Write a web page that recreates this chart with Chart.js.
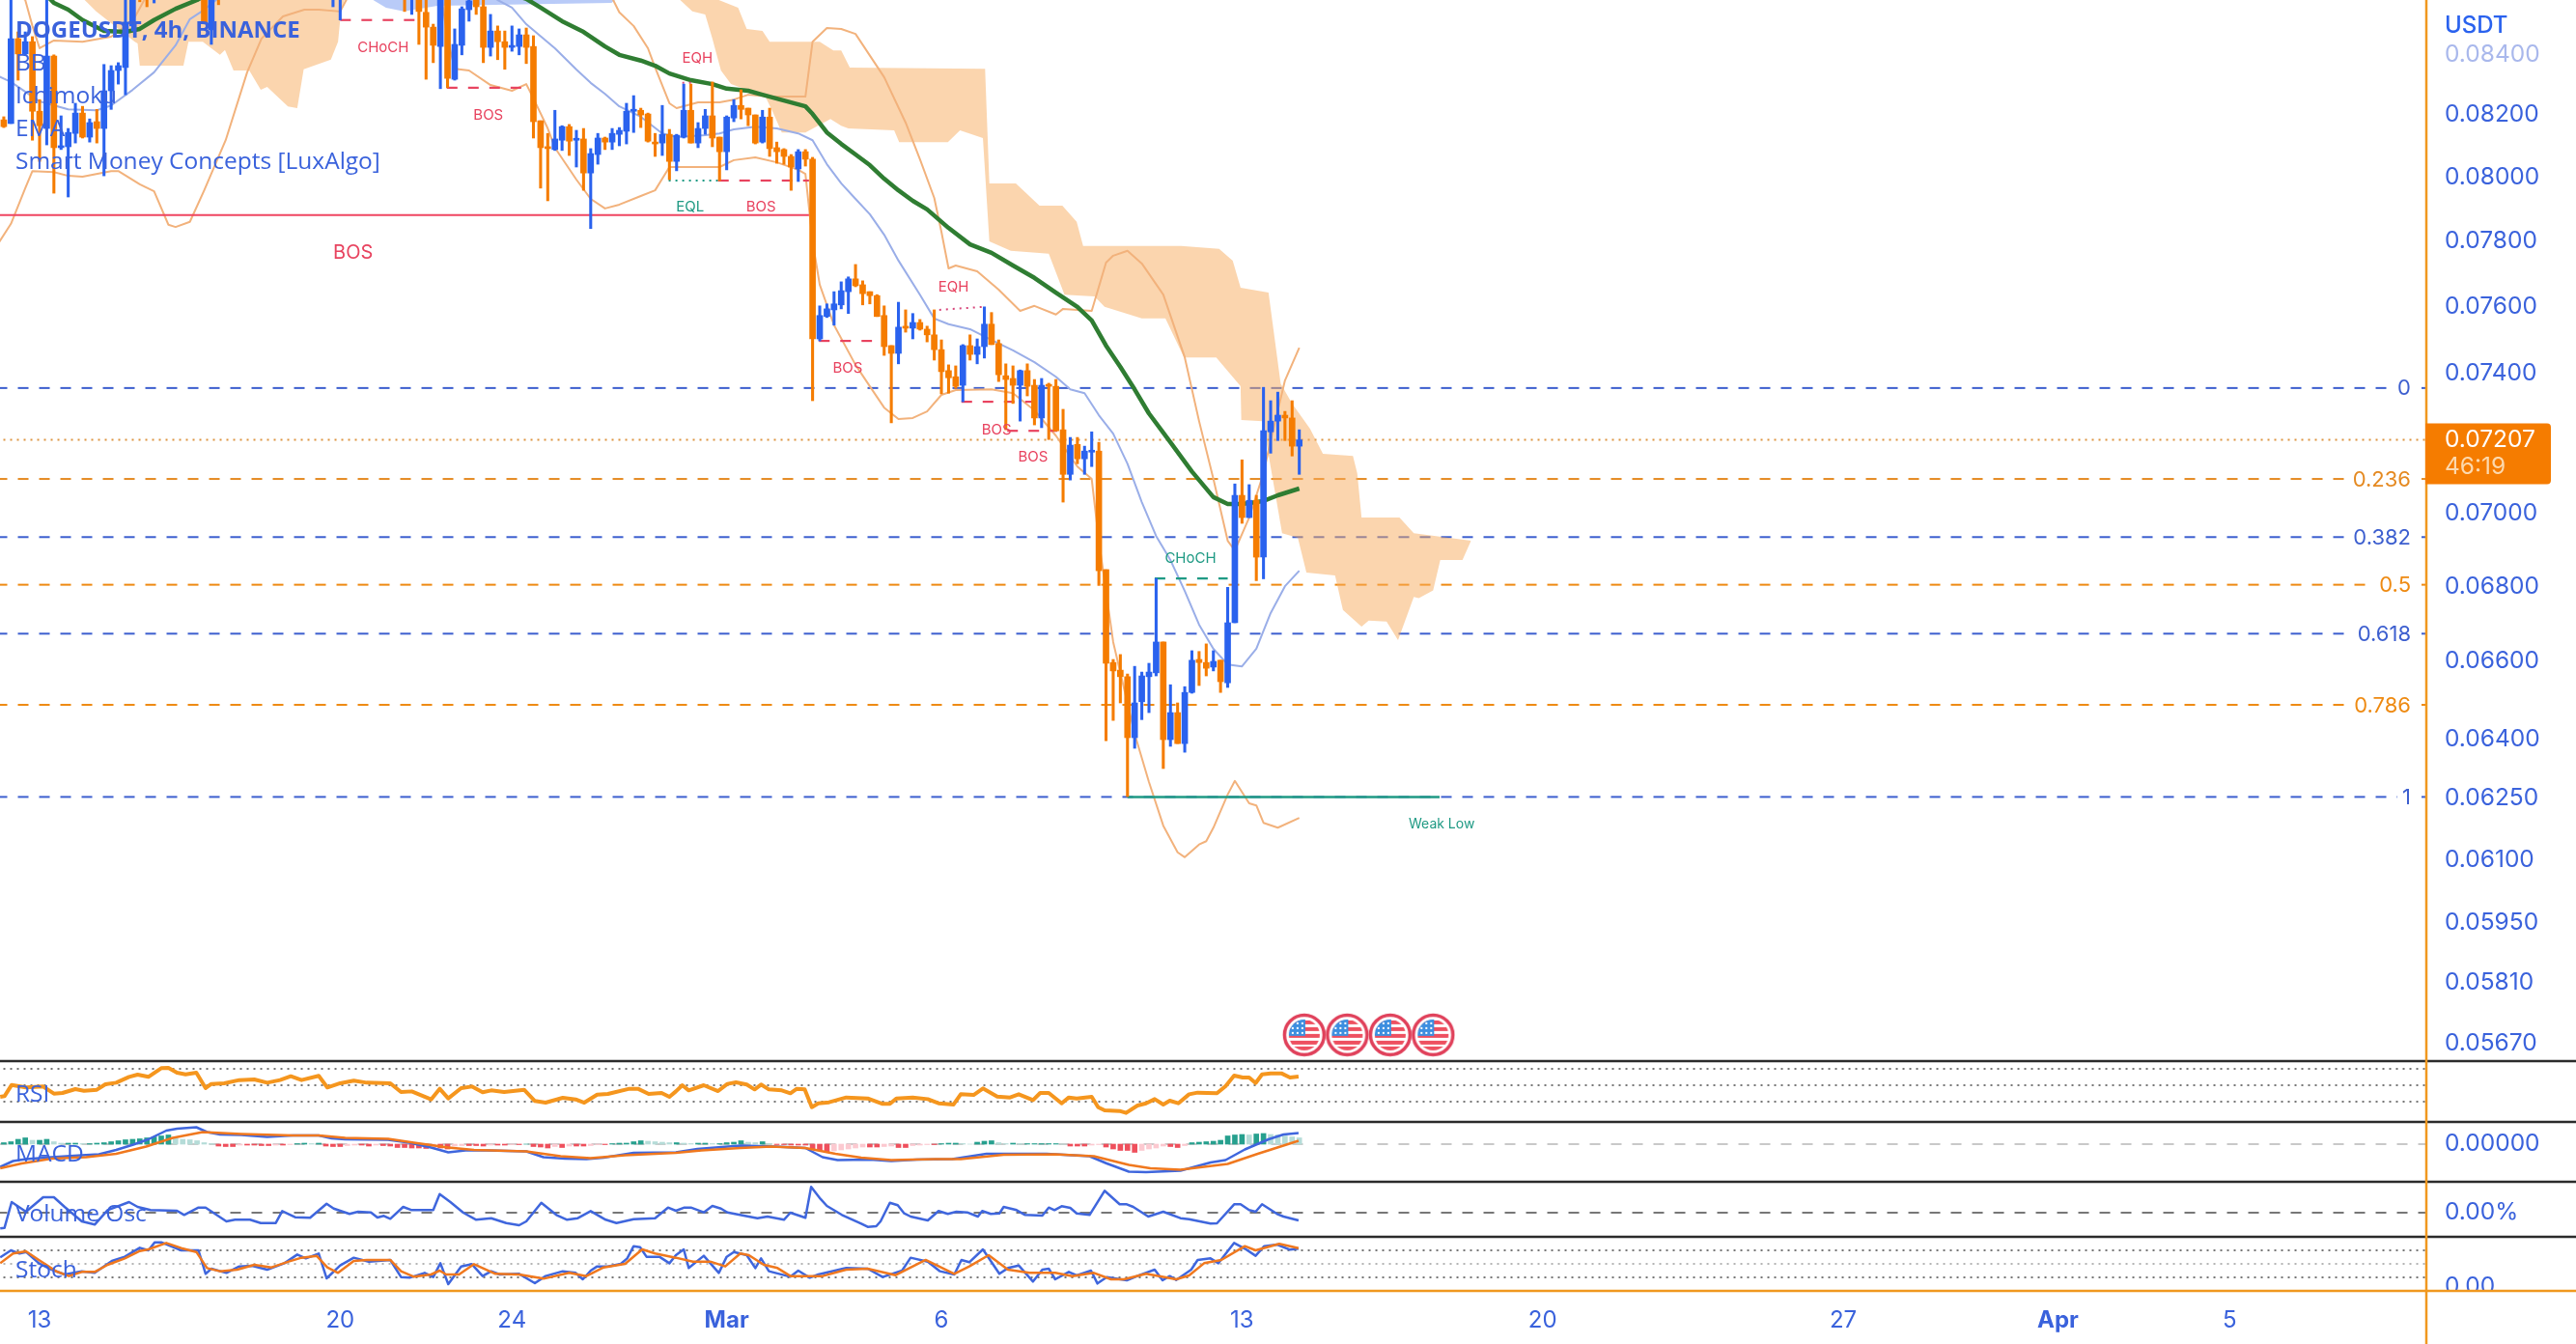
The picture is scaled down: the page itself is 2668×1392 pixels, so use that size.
<!DOCTYPE html>
<html lang="en">
<head>
<meta charset="UTF-8">
<title>DOGEUSDT, 4h, BINANCE</title>
<script src="https://cdn.jsdelivr.net/npm/chart.js"></script>
<style>
    html, body { margin: 0; padding: 0; background: #fff; }
    canvas { display: block; }
</style>
</head>
<body>
<canvas id="chart" width="2668" height="1392"></canvas>
<script>
// prices below are in 1/100000 USDT, x values are 4h bars counted from 13 Feb
// null = candle is above the top of the visible pane
const firstBar = -5;
const opens = [8184,8172,8452,8401,8442,8212,8156,8394,8094,8097,8140,8206,8128,8178,8156,8279,8346,8356,8495,8680,8640,8620,
  null,null,null,null,null,null,8690,8482,8650,null,null,null,null,null,null,null,null,null,null,null,null,null,null,null,8610,8600,
  null,null,null,null,null,null,null,null,8640,8590,8620,8541,8491,8426,8620,8317,8430,8550,8583,8560,8423,8478,8442,8423,8426,8465,
  8426,8181,8094,8088,8118,8162,8118,8122,8013,8072,8125,8112,8137,8147,8212,8215,8203,8112,8109,8137,8050,8128,8215,8109,8156,8197,
  8128,8081,8190,8231,8222,8200,8112,8193,8094,8088,8066,8026,8081,8057,7502,7569,7589,7604,7644,7683,7665,7644,7632,7572,7482,7459,
  7537,7534,7551,7531,7514,7470,7408,7390,7365,7482,7456,7479,7546,7488,7393,7385,7365,7408,7365,7270,7365,7362,7236,7109,7194,7153,
  7172,7175,6845,6597,6577,6560,6403,6495,6560,6570,6651,6398,6467,6388,6519,6605,6597,6585,6603,6544,6702,7050,6988,7036,6879,7230,
  7261,7278,7270,7189];
const closes = [8162,8452,8401,8442,8212,8165,8394,8094,8100,8143,8206,8128,8175,8156,8279,8346,8362,8508,8600,8630,8600,8660,
  null,null,null,null,null,null,8508,8650,8600,null,null,null,null,null,null,null,null,null,null,null,null,null,null,null,8650,8650,
  null,null,null,null,null,null,null,null,8590,8640,8544,8491,8430,8620,8320,8433,8553,8580,8560,8423,8478,8442,8423,8426,8465,8423,
  8178,8094,8091,8122,8162,8115,8122,8013,8075,8125,8112,8140,8150,8212,8215,8200,8115,8106,8137,8050,8134,8215,8109,8156,8197,8125,
  8081,8193,8231,8218,8200,8109,8193,8091,8081,8066,8032,8081,8057,7502,7572,7592,7607,7647,7683,7662,7638,7632,7569,7479,7459,7537,
  7534,7551,7531,7514,7470,7405,7387,7362,7482,7456,7479,7546,7485,7396,7382,7365,7408,7362,7270,7365,7362,7233,7109,7192,7153,7175,
  7175,6842,6595,6575,6560,6403,6492,6562,6572,6651,6398,6467,6388,6519,6603,6597,6582,6600,6547,6702,7050,6988,7036,6879,7233,7261,
  7278,7270,7189,7207];
const highs = [8194,8590,8475,8475,8459,8250,8600,8398,8197,8156,8238,8228,8187,8218,8366,8362,8372,8620,8650,8700,8680,8690,
  null,null,null,null,null,null,8720,8680,8680,null,null,null,null,null,null,null,null,null,null,null,null,null,null,null,8680,8680,
  null,null,null,null,null,null,null,null,8670,8670,8650,8583,8501,8650,8650,8485,8560,8590,8590,8590,8534,8495,8478,8495,8485,8488,
  8462,8181,8140,8215,8165,8169,8150,8156,8091,8140,8128,8156,8159,8238,8263,8222,8206,8140,8231,8153,8137,8301,8301,8175,8218,8308,
  8128,8197,8250,8282,8222,8200,8215,8222,8112,8091,8072,8088,8088,8063,7601,7607,7644,7674,7689,7727,7677,7644,7635,7601,7482,7612,
  7589,7578,7560,7540,7589,7499,7425,7422,7485,7514,7502,7598,7581,7499,7428,7422,7410,7428,7382,7385,7371,7382,7295,7214,7214,7189,
  7230,7200,6845,6605,6618,6567,6587,6572,6595,6821,6651,6539,6492,6534,6628,6626,6646,6628,6603,6797,7082,7150,7080,7050,7359,7320,
  7345,7289,7320,7236];
const lows = [8159,8172,8314,8398,8118,8050,8103,7949,8088,7937,8109,8125,8112,8109,8004,8218,8301,8266,8478,8577,8560,8573,
  null,null,null,null,null,null,8505,8433,8567,null,null,null,null,null,null,null,null,null,null,null,null,null,null,null,8560,8515,
  null,null,null,null,null,null,null,null,8544,8534,8433,8317,8372,8286,8289,8314,8398,8511,8534,8372,8394,8382,8350,8410,8398,8369,
  8125,7965,7925,8085,8085,8069,8032,7958,7838,8041,8088,8088,8100,8106,8143,8159,8112,8066,8069,7992,8020,8125,8109,8094,8137,8097,
  7989,8023,8178,8187,8165,8106,8109,8066,8044,8041,7958,7986,8035,7320,7496,7566,7543,7592,7578,7659,7604,7607,7569,7453,7256,7428,
  7522,7502,7528,7493,7439,7340,7342,7356,7317,7439,7428,7445,7485,7376,7236,7312,7261,7334,7250,7242,7208,7233,7031,7093,7139,7109,
  7131,6802,6395,6447,6492,6255,6376,6449,6467,6562,6325,6381,6388,6366,6517,6537,6562,6575,6519,6532,6702,6972,6988,6815,6820,7169,
  7205,7205,7161,7109];

const emaBars = [-1,2,4,6,9,12,14,16,19,22,30,50,68,70,73,76,79,81,84,86,88,91,94,96,99,101,104,107,108,110,112,114,116,118,120,122,124,127,130,133,136,139,142,145,147,149,151,153,155,158,161,164,166,168,171,173,176];
const emaValues = [8650,8573,8550,8515,8478,8475,8485,8515,8553,8583,8700,8720,8587,8557,8511,8475,8426,8398,8379,8362,8336,8314,8301,8286,8279,8266,8247,8228,8203,8143,8106,8072,8038,7995,7958,7925,7898,7840,7789,7763,7724,7686,7641,7598,7557,7482,7419,7353,7283,7200,7117,7045,7026,7026,7034,7050,7069];
const basisBars = [-6,-4,0,4,8,10,13,16,19,21,23,26,35,50,64,66,68,72,75,77,79,81,84,87,89,93,95,97,100,103,106,108,110,112,114,116,118,120,123,125,127,130,133,136,139,142,144,146,148,150,152,154,156,158,160,162,164,166,168,170,172,174,176];
const basisValues = [8330,8308,8244,8218,8215,8231,8282,8340,8430,8518,8550,8610,8800,8800,8583,8557,8501,8420,8349,8305,8269,8228,8194,8140,8128,8134,8140,8153,8162,8156,8140,8118,8041,7980,7931,7883,7819,7739,7635,7563,7546,7531,7499,7468,7433,7390,7353,7342,7278,7225,7139,7031,6937,6871,6787,6697,6633,6592,6587,6633,6728,6800,6842];
const bbLowerBars = [-6,-4,-2,-1,2,4,6,10,11,14,16,18,19,21,23,26,29,31,34,37,39,42,43,50,56,57,58,60,63,66,68,69,71,72,75,77,79,81,84,86,88,91,95,97,100,103,106,107,108,109,111,114,116,118,120,122,124,126,128,133,136,139,142,145,147,148,150,153,155,157,159,160,162,163,164,166,167,169,170,171,173,176];
const bbLowerValues = [7784,7853,7965,8019,8016,8004,8001,8019,8019,7977,7955,7850,7843,7859,7958,8118,8340,8452,8527,8550,8550,8544,8590,8700,8620,8452,8352,8346,8298,8279,8301,8254,8156,8094,7992,7931,7901,7913,7940,7958,8032,8032,8032,8054,8063,8047,8023,8010,7798,7665,7543,7425,7362,7300,7267,7270,7289,7337,7351,7353,7342,7292,7219,7131,7096,6924,6651,6413,6291,6183,6118,6106,6137,6145,6178,6260,6294,6238,6233,6190,6178,6202];
const bbUpperBars = [-3,-2,-1,0,2,6,10,13,15,30,60,77,80,81,83,85,86,88,89,92,95,97,99,102,107,108,110,112,114,118,121,123,125,126,127,128,131,134,137,139,142,143,147,149,150,152,154,157,160,162,164,166,167,169,171,172,174,176];
const bbUpperValues = [8600,8583,8495,8420,8446,8442,8459,8511,8600,8900,8900,8610,8590,8541,8495,8420,8356,8238,8222,8241,8241,8250,8266,8260,8260,8442,8488,8485,8468,8324,8175,8057,7934,7828,7715,7724,7706,7650,7586,7601,7575,7592,7586,7733,7754,7769,7730,7635,7447,7261,7096,6924,6897,6988,7112,7205,7379,7476];

const cloudTopBars = [5,94,94.9,97.6,98.8,101,102,109,110.9,112,113.2,131.7,132.1,132.7,136.4,139.7,142.9,144.9,145.8,159.5,164.8,166.7,167.8,171.7,173.4,175,177.5,179.3,183.5,184.1,184.7,190,192,200];
const cloudTopValues = [8800,8800,8583,8557,8485,8478,8442,8442,8413,8413,8356,8352,8352,7980,7980,7910,7910,7859,7784,7784,7775,7739,7656,7641,7370,7312,7239,7167,7161,7112,6988,6988,6945,6924];
const cloudBottomBars = [5,5.5,6.3,7.9,13.3,13.7,14,20.1,20.8,22.8,25.2,25.9,27.1,29.3,30.9,31.8,34.7,36,36.9,40.7,41.7,42.1,42.6,43,88,89.5,91.2,93,94,95.2,96.6,101.4,102.4,103.7,107,110.5,112,113,119.4,120.1,126.9,128.6,131.8,132.7,135.7,141,143.2,147.4,148.8,154,157.3,159.9,164.4,167.8,167.9,170.9,173.6,175.8,177,181,182.1,184.7,185.7,188.2,189.8,192,192.7,194.7,195.7,198.8,200];
const cloudBottomValues = [8800,8800,8583,8544,8442,8436,8362,8362,8442,8442,8398,8414,8346,8346,8282,8292,8228,8222,8350,8382,8442,8541,8583,8800,8800,8583,8544,8534,8452,8346,8301,8260,8212,8143,8143,8187,8165,8156,8150,8112,8112,8150,8125,7798,7769,7760,7635,7630,7598,7563,7563,7447,7447,7362,7264,7261,6945,6932,6837,6829,6736,6692,6708,6705,6656,6771,6768,6789,6871,6871,6924];
const blueCloudBars = [46.6,48.4,50.9,55.6,79.9,80.4];
const blueCloudValues = [8583,8557,8544,8563,8573,8583];

const fibLabels = ['0','0.236','0.382','0.5','0.618','0.786','1'];
const fibPrices = [7357,7096,6934,6804,6673,6487,6254];
const fibColors = ['#3d5fcf','#e58a22','#3d5fcf','#ee8a12','#3d5fcf','#ee8a12','#3d5fcf'];
const lastPrice = 7207;

// smart money structure lines: from bar, to bar, price at start, price at end
const redDashFrom = [42.0,56.9,94.8,108.9,128.8,135.2];
const redDashTo = [52.5,67.3,107.5,116.3,138.8,142.2];
const redDashPrice = [8515,8289,7989,7496,7317,7233];
const bosLinePrice = 7880;
const bosLineTo = 107.5;
const eqlLine = [87.9,94.8,7989];
const eqhLines = [[89.8,91.6,8305,8305],[125.7,131.8,7589,7598]];
const chochGreen = [155.8,166.0,6821];
const weakLow = [152,195.6,6254];

const noteTexts = ['CHoCH','BOS','EQH','EQL','BOS','BOS','EQH','BOS','BOS','BOS','CHoCH','Weak Low'];
const noteBars = [48,62.7,91.9,90.9,100.8,43.8,127.7,112.9,133.7,138.8,160.8,195.9];
const notePrices = [8423,8200,8385,7904,7904,7763,7659,7414,7236,7159,6875,6187];
const noteColors = ['r','r','r','g','r','r','r','r','r','r','g','g'];
const noteSizes = [15,15,15,15,15,20,15,15,15,15,15,14];

const rsiBars = [-5.5,-4.9,-3.9,-1.9,.5,2,3.2,5,6.2,8,9.2,10.7,12.5,13.7,15.2,17,18,19.2,20.4,21.9,23.2,24,25.8,27.9,30,31.8,33.6,35.1,36.6,39,40.2,42,43.9,45.7,49,50.5,52,54.7,55.9,57.1,58.9,60.4,61.9,63.1,64.9,67.7,69.2,70.7,73.1,74.9,76.1,77.9,79.4,82.4,83.6,85.1,86.9,88,88.9,89.8,90.7,92.8,94.8,96.1,97.3,98.8,99.9,100.8,101.9,103.7,104.9,105.8,106.9,107.9,108.8,110.3,112.7,115.7,117.8,118.8,119.7,122,124.1,125.6,127.7,128.7,130.5,131.8,133.8,135.6,136.8,138.8,139.8,141,142.8,143.8,144.9,147,147.9,148.8,150.9,151.8,153.4,154.6,155.8,157,157.9,159.1,160.6,161.8,164.5,165.7,166.9,168.1,169,169.9,170.8,172,173.5,174.7,175.9];
const rsiValues = [35.9,36.7,50.4,47.3,48.4,39.8,40.6,45.3,43.3,44.5,51.2,53.1,60.2,62.9,60.2,70.8,71.2,65.3,63.3,65.3,46.5,51.6,52.4,56.3,57.1,53.1,56.3,61,56.3,61.4,47.3,52.4,55.5,53.1,52.4,41.8,42.5,32.7,45.7,33.9,46.5,48.4,41.4,43.7,41.8,44.5,30.8,28.8,34.7,32.7,28.8,38.6,39.4,45.7,45.7,39.4,40.6,35.9,42.5,50,43.7,50,42.9,51.6,53.5,50.8,44.9,50.8,44.9,43.7,40.2,45.7,44.9,23.3,28,29.2,35.1,33.9,27.3,27.3,33.9,35.1,33.1,28,26.5,39,38.2,46.1,36.3,35.1,39,32,40.6,40.6,28,35.1,33.9,35.9,23.3,19.4,18.6,16.3,25.3,28,33.1,26.5,31.2,28,39,41,40.2,48.8,61.8,59.4,59.4,52.7,63.3,64.5,64.5,59.4,60.6];
const rsiLevels = [70,50,30];

const macdBars = [-5.5,-3.7,-1.9,1.7,5.9,8.3,10.7,13.1,15.2,17.7,19.2,21.9,23.4,25.2,28.2,31.8,35.4,39,40.8,42.7,48.7,51.7,54.7,57.1,59.5,62.5,68,70.4,73.4,76.4,78.8,83,88.9,91.9,97.9,102.8,107,109.4,111.5,116,119,122.6,127.5,132.3,140.7,146.7,149.1,152.2,154.6,159.4,163.6,165.7,168.4,171.7,173.8,175.9];
const macdValues = [-47,-35,-31,-27,-23,-21,-12,-1,10,28,32,35,25,20,19,15,18,18,12,10,9,3,-7,-17,-13,-13,-15,-27,-30,-31,-28,-18,-17,-10,-3,-5,-8,-27,-33,-32,-35,-32,-31,-20,-20,-25,-40,-57,-58,-55,-38,-33,-11,10,20,23];
const signalBars = [-5.5,-2.5,1.7,6.5,10.7,14.9,18.6,22.8,28.2,35.4,39,42.7,48.7,52.3,57.1,60.7,68,72.8,77,81.8,88.9,92.5,97.9,102.2,107,111.2,114.8,119,125,128.7,134.7,141.9,147.3,152.2,155.2,159.4,166,170.2,175.9];
const signalValues = [-50,-40,-30,-27,-20,-5,13,25,21,18,18,13,11,3,-7,-12,-15,-25,-29,-23,-18,-13,-8,-5,-8,-20,-28,-33,-31,-31,-22,-21,-25,-43,-50,-53,-41,-20,7];
const histValues = [3,5,10,13,8,8,10,5,2,2,2,1,1,2,3,5,7,9,10,11,13,15,17,19,12,10,9,7,3,1,-4,-5,-5,-2,-2,-2,-3,-3,-2,-2,-1,1,2,1,2,-4,-5,-5,-3,-2,-2,-4,-2,-3,-4,-7,-7,-8,-8,-9,-8,-8,-10,-4,-3,-3,-3,-4,-2,-2,-2,-1,-1,0,-5,-6,-8,-5,-7,-4,-4,-4,-3,-1,-1,1,2,2,5,7,6,5,4,3,3,2,1,2,2,1,1,3,4,7,4,3,5,1,-1,-1,-2,-2,-2,-10,-13,-16,-14,-12,-10,-8,-6,-6,-6,-5,-4,-7,-7,-3,-2,-1,-1,1,2,2,1,0,4,6,7,3,1,2,1,1,1,1,1,1,0,-4,-4,-4,-2,-1,-6,-10,-13,-13,-17,-13,-10,-8,-4,-5,-7,-3,3,4,5,6,8,17,19,20,19,21,22,20,19,17,15,13];

const voBars = [-5.5,-4.9,-3.9,-1.9,.5,2,3.5,5.9,7.7,9.5,12.5,13.7,15.5,19.2,20.2,22.2,23.2,26.1,27.3,29.4,30.9,33,33.9,35.7,37.8,40.1,41.1,43.3,44.5,46.3,47.2,48.1,49,50.8,52,55,55.9,57.4,59.2,61,63.1,65.2,67,68,70.1,72.2,73.7,75.2,77,79.1,80.6,83,86,87.8,88.9,90.1,91,92.8,94,95.2,96.1,100.3,101.7,104,104.9,107,107.8,109.1,110,112.1,114.8,115.7,116.9,117.5,118.8,119.9,120.8,121.7,124.1,125.6,126.9,128.1,129.6,131.1,131.7,132.9,134.1,134.7,136.5,137.7,140.1,141,141.8,142.8,144,144.9,146.7,148.8,150.9,151.9,152.8,154.9,157,159.4,160.6,163.6,164.5,166.9,167.8,169,169.9,170.8,172.9,173.8,175.9];
const voValues = [-16.3,-15.7,11,1,16,16,6,-9,-12.3,2.7,11,6,2.7,2,-2.3,5.3,5.3,-9,-7.3,-7.3,-10.7,-10.7,1.7,-4.7,-5.3,9.3,4.3,-1.3,1,.3,-5,-3.3,-6.3,6,2.7,2.7,19.3,11,0,-7.3,-5.7,-10.7,-13,-9,10.3,-2.3,-7.3,-5.7,1.7,-7.3,-10.7,-6.7,-5.7,5.3,2,5.3,5.3,.3,7,4.3,.3,-5.7,-4,-7.3,0,-5.3,26.7,14.3,7,-2.3,-11.3,-14.7,-14,-9,10.3,7.7,-.7,-4,-8,1.7,-1.3,1,.3,-4,1.7,-1.3,-.7,6,2.7,-2.3,-3,5.3,2.7,6.7,5,-.7,-2.3,22.7,8.7,8.7,6,-4,1,-5.7,-6.7,-11.3,-11,8.7,8.7,2.7,1,8.7,-1.3,-4,-8];

const stochKBars = [-5.5,-4,-2.8,-1.9,-.1,1.7,3.5,5.9,7.7,10.1,11.9,14,15.2,16.1,17,19.8,22.2,23.2,24,26.1,27.9,29.7,31.8,34.2,36,37.2,39,40.1,42,43.9,46,49,50.5,51.7,53.8,55,56,57.1,58.9,60.4,61.9,63.1,64.3,67,69.2,70.7,73.1,74.9,75.9,77,77.9,79.4,81.2,82.1,83,83.9,84.8,86.6,88,88.9,90,90.7,92.8,94.9,96,97,98.8,100,100.8,101.9,104.9,106,107.6,108.8,112.7,115.7,117.8,120.5,121.7,124.1,125.8,127.8,128.8,129.9,131.8,134.1,135.3,136.8,138.8,140.1,141,141.9,143.8,144.9,146.9,147.8,149.1,151.9,153.7,155.8,156.9,157.9,158.8,160.9,161.8,163.6,164.7,166.9,168.4,169.9,171.1,172.9,174.7,175.9];
const stochKValues = [64.3,80,72.9,76.4,51.4,37.1,26.4,33.6,30,56.4,65.7,85.7,80,97.9,97.9,80,80,27.9,39.3,30,44.3,45.7,37.1,51.4,70.7,62.1,72.9,17.9,46.4,63.6,55,58.6,20.7,19.3,30,20.7,51.4,5,44.3,49.3,22.9,33.6,26.4,27.9,7.1,22.9,33.6,30,15.7,35,44.3,44.3,50,62.1,89.3,87.1,65.7,65.7,51.4,69.3,82.1,40.7,67.9,30,65.7,76.4,69.3,40.7,62.1,33.6,21.4,35,19.3,26.4,40.7,39.3,20.7,35,63.6,55,33.6,26.4,58.6,53.6,82.1,27.9,40.7,46.4,10.7,37.1,39.3,15.7,32.1,24.3,35,6.4,20.7,13.6,25,37.1,13.6,22.9,14.3,37.1,58.6,62.1,51.4,96.4,83.6,67.9,89.3,92.9,81.4,83.6];
const stochDBars = [-5.5,-3.7,-1.9,-.1,2.3,4.1,5.9,7.7,9.5,11.9,14,15.2,17.7,19.8,21.9,23.4,25.2,27.6,30,32.4,34.8,36.6,38.7,40.2,41.7,43.9,45.7,49,50.5,52.3,54.7,55.9,56.8,58.6,60.7,63.7,67,70.4,74,76.4,78.8,81.8,84.2,86,88.9,91.3,93.7,95.8,97.9,99.1,101.2,103.1,104.9,109.4,112.7,115.7,119.6,123.8,127.8,129.9,132.6,135.3,138.3,141.9,144.3,147.3,149.7,151.5,154.6,158.8,160.6,162.7,165.1,168.4,169.9,173.2,175.9];
const stochDValues = [51.4,72.9,77.9,58.6,33.6,22.9,32.1,32.1,47.9,62.1,78.6,82.1,96.4,85,76.4,40.7,33.6,37.1,47.9,42.1,55,63.6,67.9,42.1,30,56.4,58.6,58.6,33.6,21.4,26.4,35,26.4,26.4,49.3,27.9,26.4,17.1,30,22.9,42.1,50,82.1,72.9,63.6,55,55,44.3,72.9,69.3,47.9,40.7,22.9,22.9,37.1,39.3,25,58.6,27.9,44.3,69.3,37.1,30,30,22.9,30,15.7,15.7,27.9,15.7,24.3,51.4,58.6,89.3,80,94.3,85];
const stochLevels = [80,50,20];

const eventBars = [176.7,182.7,188.7,194.7];
const eventPrice = 5690;

const priceTicks = [8400,8200,8000,7800,7600,7400,7000,6800,6600,6400,6250,6100,5950,5810,5670];
const dayTicks = [0,42,66,96,126,168,210,252,282,306];
const dayLabels = ['13','20','24','Mar','6','13','20','27','Apr','5'];
const legendRows = ['DOGEUSDT, 4h, BINANCE','BB','Ichimoku','EMA','Smart Money Concepts [LuxAlgo]'];

const BLUE = '#2a62ee';
const ORANGE = '#f57c00';
const TEXT_BLUE = '#3a62dc';
const RED = '#e8435f';
const GREEN = '#1f9a84';
const UI_FONT = '"Open Sans", sans-serif';
const NUM_FONT = 'Inter, sans-serif';

const toPrice = v => v === null ? null : v * 1e-5;
const toMacd = v => v * 1e-5;

function lineSet(xs, ys, axis, color, width, order, extra) {
    return Object.assign({
        type: 'line', yAxisID: axis, order: order,
        data: xs.map((x, k) => ({x: x, y: ys[k]})),
        borderColor: color, borderWidth: width,
        pointRadius: 0, tension: 0, fill: false, borderJoinStyle: 'round'
    }, extra || {});
}
const priceSet = (xs, ys, color, width, order, extra) => lineSet(xs, ys.map(toPrice), 'y', color, width, order, extra);
const hline = (from, to, p, color, width, order, dash) => priceSet([from, to], [p, p], color, width, order, {borderDash: dash || []});

// candles
const visible = opens.map((o, k) => k).filter(k => opens[k] !== null);
const barColor = visible.map(k => closes[k] >= opens[k] ? BLUE : ORANGE);
const wickSet = {
    type: 'bar', yAxisID: 'y', order: 2, grouped: false, barThickness: 2.4,
    data: visible.map(k => ({x: k + firstBar, y: [toPrice(lows[k]), toPrice(highs[k])]})),
    backgroundColor: barColor
};
const bodySet = {
    type: 'bar', yAxisID: 'y', order: 1, grouped: false, barThickness: 6, minBarLength: 2,
    data: visible.map(k => ({x: k + firstBar, y: [toPrice(Math.min(opens[k], closes[k])), toPrice(Math.max(opens[k], closes[k]))]})),
    backgroundColor: barColor
};

// macd histogram
const histColors = histValues.map((v, k) => {
    const prev = k > 0 ? histValues[k - 1] : 0;
    if (v >= 0) return v >= prev ? '#26a08e' : '#b5dcd8';
    return v <= prev ? '#ef4f5c' : '#fcc9d0';
});
const histSet = {
    type: 'bar', yAxisID: 'yMacd', order: 6, grouped: false, barThickness: 5,
    data: histValues.map((v, k) => ({x: k + firstBar, y: toMacd(v)})),
    backgroundColor: histColors
};

// little flag marker for the events row
function makeFlag() {
    const c = document.createElement('canvas');
    c.width = 46; c.height = 46;
    const g = c.getContext('2d');
    g.beginPath(); g.arc(23, 23, 20.5, 0, Math.PI * 2);
    g.fillStyle = '#fff'; g.fill();
    g.lineWidth = 3.5; g.strokeStyle = '#e0405a'; g.stroke();
    g.save();
    g.beginPath(); g.arc(23, 23, 16, 0, Math.PI * 2); g.clip();
    g.fillStyle = '#fff'; g.fillRect(0, 0, 46, 46);
    g.fillStyle = '#ee5060';
    [8, 15, 22, 29, 35].forEach(y => g.fillRect(7, y, 32, 4));
    g.fillStyle = '#3d8fe0'; g.fillRect(7, 7, 17, 17);
    g.fillStyle = '#fff';
    for (let r = 0; r < 3; r++) for (let q = 0; q < 3; q++) g.fillRect(10 + q * 5, 10 + r * 5, 2, 2);
    g.restore();
    return c;
}
const flagImage = makeFlag();

const datasets = [
    // fib levels sit under the cloud
    ...fibPrices.map((p, k) => hline(-6, 334, p, fibColors[k], 2, 30, [11, 11])),
    hline(-6, 334, lastPrice, '#dd9440', 2, 29, [2, 5]),
    priceSet(cloudTopBars, cloudTopValues, 'transparent', 0, 20, {fill: '+1', backgroundColor: 'rgba(247,171,93,0.5)'}),
    priceSet(cloudBottomBars, cloudBottomValues, 'transparent', 0, 20),
    priceSet([46.6, 80.4], [8800, 8800], 'transparent', 0, 20, {fill: '+1', backgroundColor: 'rgba(100,140,240,0.45)'}),
    priceSet(blueCloudBars, blueCloudValues, 'transparent', 0, 20),
    priceSet(bbUpperBars, bbUpperValues, '#f2b27c', 2, 12),
    priceSet(bbLowerBars, bbLowerValues, '#f2b27c', 2, 12),
    priceSet(basisBars, basisValues, '#9aaee8', 2, 11),
    priceSet(emaBars, emaValues, '#2f7d32', 4.5, 10),
    hline(-6, bosLineTo, bosLinePrice, '#ef4560', 2, 8),
    ...redDashFrom.map((f, k) => hline(f, redDashTo[k], redDashPrice[k], RED, 2.2, 8, [11, 11])),
    hline(eqlLine[0], eqlLine[1], eqlLine[2], GREEN, 2, 8, [2, 5]),
    ...eqhLines.map(l => priceSet([l[0], l[1]], [l[2], l[3]], '#d8487c', 2, 8, {borderDash: [2, 5]})),
    hline(chochGreen[0], chochGreen[1], chochGreen[2], GREEN, 2.2, 8, [11, 11]),
    hline(weakLow[0], weakLow[1], weakLow[2], GREEN, 2.5, 8),
    wickSet, bodySet,
    lineSet(eventBars, eventBars.map(() => toPrice(eventPrice)), 'y', 'transparent', 0, 0, {
        showLine: false, pointStyle: flagImage, pointRadius: 23
    }),
    // rsi
    ...rsiLevels.map(v => lineSet([-6, 334], [v, v], 'yRsi', '#777', 2, 7, {borderDash: [2, 5]})),
    lineSet(rsiBars, rsiValues, 'yRsi', '#f5961e', 4, 5),
    // macd
    lineSet([-6, 334], [0, 0], 'yMacd', '#c9c9c9', 2, 7, {borderDash: [11, 11]}),
    histSet,
    lineSet(macdBars, macdValues.map(toMacd), 'yMacd', '#3f66dd', 2.5, 5),
    lineSet(signalBars, signalValues.map(toMacd), 'yMacd', '#f0781e', 2.5, 4),
    // volume osc
    lineSet([-6, 334], [0, 0], 'yVo', '#777', 2, 7, {borderDash: [11, 11]}),
    lineSet(voBars, voValues, 'yVo', '#3f66dd', 2.5, 5),
    // stoch
    ...stochLevels.map((v, k) => lineSet([-6, 334], [v, v], 'yStoch', k === 1 ? '#b5b5b5' : '#777', 2, 7, {borderDash: [2, 5]})),
    lineSet(stochKBars, stochKValues, 'yStoch', '#3f66dd', 2.5, 5),
    lineSet(stochDBars, stochDValues, 'yStoch', '#f0781e', 2.5, 4)
];

const overlay = {
    id: 'overlay',
    afterDatasetsDraw(chart) {
        const g = chart.ctx, x = chart.scales.x, y = chart.scales.y;
        g.save();
        g.textBaseline = 'middle';

        // structure notes
        noteTexts.forEach((t, k) => {
            g.font = noteSizes[k] + 'px ' + NUM_FONT;
            g.fillStyle = noteColors[k] === 'g' ? GREEN : RED;
            g.textAlign = 'center';
            g.fillText(t, x.getPixelForValue(noteBars[k]), y.getPixelForValue(toPrice(notePrices[k])));
        });

        // fib labels
        g.font = '22px ' + NUM_FONT;
        g.textAlign = 'right';
        fibLabels.forEach((t, k) => {
            const py = y.getPixelForValue(toPrice(fibPrices[k]));
            const w = g.measureText(t).width;
            g.fillStyle = '#fff';
            g.fillRect(2498 - w - 6, py - 4, w + 16, 8);
            g.fillStyle = fibColors[k];
            g.fillText(t, 2497, py + 1);
        });

        // legend and pane titles
        g.textAlign = 'left';
        g.fillStyle = TEXT_BLUE;
        legendRows.forEach((t, k) => {
            g.font = (k === 0 ? 'bold 24px ' : '24.5px ') + UI_FONT;
            g.fillText(t, 16, 32 + k * 34);
        });
        g.font = '24.5px ' + UI_FONT;
        g.fillText('RSI', 16, 1134);
        g.fillText('MACD', 16, 1196);
        g.fillText('Volume Osc', 16, 1258);
        g.fillText('Stoch', 16, 1316);
        g.restore();
    },
    afterDraw(chart) {
        const g = chart.ctx, y = chart.scales.y;
        g.save();
        // bottom of the stoch label is cut by the time axis
        g.fillStyle = '#fff';
        g.fillRect(2515, 1338, 153, 54);

        g.strokeStyle = '#2b2b2b';
        g.lineWidth = 2.5;
        ['yRsi', 'yMacd', 'yVo', 'yStoch'].forEach(id => {
            const top = Math.round(chart.scales[id].top);
            g.beginPath(); g.moveTo(0, top); g.lineTo(2668, top); g.stroke();
        });
        g.strokeStyle = '#f0981f';
        g.beginPath(); g.moveTo(0, chart.scales.yStoch.bottom); g.lineTo(2668, chart.scales.yStoch.bottom); g.stroke();
        g.beginPath(); g.moveTo(2513, 0); g.lineTo(2513, 1392); g.stroke();

        g.textBaseline = 'middle';
        g.textAlign = 'left';
        g.font = '500 24px ' + NUM_FONT;
        g.fillStyle = '#2a62ee';
        g.fillText('USDT', 2532, 27);

        // last price tag
        const py = y.getPixelForValue(toPrice(lastPrice));
        g.fillStyle = '#f57c00';
        g.beginPath();
        g.roundRect(2512, py - 17, 130, 63, [0, 4, 4, 0]);
        g.fill();
        g.font = '24.5px ' + NUM_FONT;
        g.fillStyle = '#fff';
        g.fillText((lastPrice * 1e-5).toFixed(5), 2532, py);
        g.fillStyle = '#fcd9ae';
        g.fillText('46:19', 2532, py + 28);
        g.restore();
    }
};

// stacked right axes: fixed width and no label padding, so panes fill the canvas height
function fixYAxis(s) {
    s.width = 155;
    s.paddingTop = 0;
    s.paddingBottom = 0;
}

function paneScale(id, min, max, weight, order, ticks, fmt) {
    return {
        type: 'linear', position: 'right', stack: 'panes', stackWeight: weight, weight: order,
        min: min, max: max,
        grid: {display: false}, border: {display: false},
        afterFit: fixYAxis,
        afterBuildTicks(s) { s.ticks = ticks.map(v => ({value: v})); },
        ticks: {
            padding: 11, crossAlign: 'near', autoSkip: false,
            color: TEXT_BLUE, font: {family: 'Inter', size: 24.5},
            callback: fmt
        }
    };
}

new Chart(document.getElementById('chart'), {
    type: 'bar',
    data: {datasets: datasets},
    options: {
        responsive: false,
        animation: false,
        devicePixelRatio: 1,
        layout: {padding: 0, autoPadding: false},
        events: [],
        plugins: {legend: {display: false}, tooltip: {enabled: false}},
        scales: {
            x: {
                type: 'linear', position: 'bottom', offset: false,
                min: -5.53, max: 333.47,
                grid: {display: false}, border: {display: false},
                afterFit(s) { s.height = 55; s.paddingLeft = 0; s.paddingRight = 0; },
                afterBuildTicks(s) { s.ticks = dayTicks.map(v => ({value: v})); },
                ticks: {
                    autoSkip: false, maxRotation: 0, padding: 8, color: TEXT_BLUE,
                    font(ctx) {
                        const t = dayLabels[dayTicks.indexOf(ctx.tick ? ctx.tick.value : 0)];
                        return {family: 'Inter', size: 24, weight: (t === 'Mar' || t === 'Apr') ? 'bold' : 'normal'};
                    },
                    callback(v) { return dayLabels[dayTicks.indexOf(v)]; }
                }
            },
            y: {
                type: 'logarithmic', position: 'right', stack: 'panes', stackWeight: 1099, weight: 1,
                min: 0.05631, max: 0.08583, bounds: 'data',
                grid: {display: false}, border: {display: false},
                afterFit: fixYAxis,
                afterBuildTicks(s) { s.ticks = priceTicks.map(v => ({value: toPrice(v)})); },
                ticks: {
                    padding: 11, crossAlign: 'near', autoSkip: false,
                    font: {family: 'Inter', size: 24.5},
                    color(ctx) { return ctx.index === 0 ? '#a9b8ec' : TEXT_BLUE; },
                    callback(v) { return v.toFixed(5); }
                }
            },
            yRsi: paneScale('yRsi', 5.3, 79.4, 63, 2, [], () => ''),
            yMacd: paneScale('yMacd', -0.00078, 0.00046, 62, 3, [0], () => '0.00000'),
            yVo: paneScale('yVo', -25, 32, 57, 4, [0], () => '0.00%'),
            yStoch: paneScale('yStoch', -10, 110, 56, 5, [0], () => '0.00')
        }
    },
    plugins: [overlay]
});
</script>
</body>
</html>
